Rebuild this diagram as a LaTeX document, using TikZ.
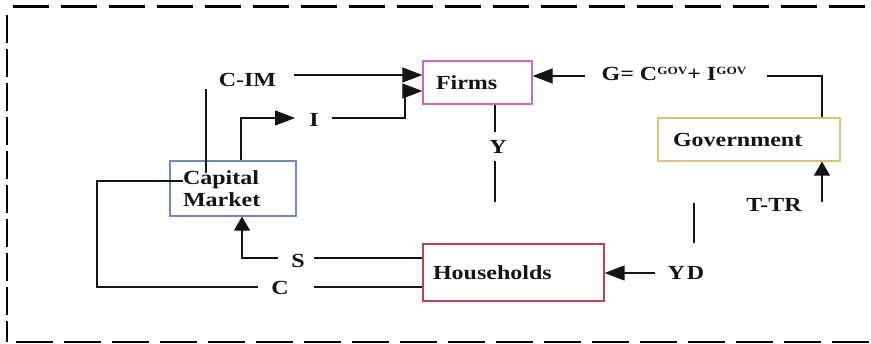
\documentclass[tikz,border=0pt]{standalone}
\usepackage{fontspec}
\setmainfont{Liberation Serif}[FakeStretch=1.2]
\usetikzlibrary{arrows.meta}

\definecolor{firmcol}{HTML}{CC66CC}
\definecolor{capcol}{HTML}{6A8AC0}
\definecolor{govcol}{HTML}{DEC070}
\definecolor{hhcol}{HTML}{C04050}
\definecolor{ink}{HTML}{141414}

\begin{document}
\begin{tikzpicture}[x=1pt,y=-1pt,
  box/.style={draw, line width=1.2pt, inner ysep=0pt, align=left,
    font=\fontsize{20}{22}\selectfont\bfseries, text=ink},
  lab/.style={font=\fontsize{20}{22}\selectfont\bfseries, text=ink, inner sep=0pt, anchor=base},
  flow/.style={line width=1.1pt, draw=ink},
  tipL/.style={-{Triangle[length=20pt,width=15pt]}},
  tipS/.style={-{Triangle[length=14pt,width=16pt]}},
  frame/.style={line width=2.8pt, draw=black}]
\useasboundingbox (0,0) rectangle (871,344);

% dashed frame
\draw[frame, dash pattern=on 36pt off 12pt] (13,6.5) -- (871,6.5);
\draw[frame, dash pattern=on 37pt off 11pt] (16,342) -- (871,342);
\draw[frame, dash pattern=on 28pt off 6pt] (7,15) -- (7,342);

% sectors
\node[box, draw=firmcol, inner xsep=13pt, text width=83pt, minimum height=43pt]
  (firms) at (477.5,82.5) {Firms};
\node[box, draw=capcol, inner xsep=13pt, text width=100pt, minimum height=55pt]
  (cap) at (233,188.5) {Capital\\Market};
\node[box, draw=govcol, inner xsep=15pt, text width=152pt, minimum height=43pt]
  (gov) at (749,139.5) {Government};
\node[box, draw=hhcol, inner xsep=10pt, text width=161pt, minimum height=57pt]
  (hh) at (513.5,272.5) {Households};

% flow labels
\node[lab] (cim) at (247.5,87) {C-IM};
\node[lab] (ilab) at (314,127) {I};
\node[lab] (glab) at (674,81) {G= C{\fontsize{11}{12}\selectfont\raisebox{6pt}{GOV}}+ I{\fontsize{11}{12}\selectfont\raisebox{6pt}{GOV}}};
\node[lab] (ylab) at (498,154) {Y};
\node[lab] (ttr) at (774,212) {T-TR};
\node[lab] (yd) at (686,280) {Y\kern2pt D};
\node[lab] (slab) at (298,268) {S};
\node[lab] (clab) at (280,295) {C};

% connector end points
\coordinate (cimR) at (294,75);
\coordinate (iBend) at (241,118);
\coordinate (iTip) at (295,118);
\coordinate (iR) at (332,118);
\coordinate (iUp) at (405,118);
\coordinate (iTop) at (405,91);
\coordinate (gL) at (585,76);
\coordinate (gR) at (767,76);
\coordinate (gCorner) at (822,76);
\coordinate (tBot) at (822,202);
\coordinate (yA) at (495,132);
\coordinate (yB) at (495,161);
\coordinate (yC) at (495,202);
\coordinate (ydA) at (694,203);
\coordinate (ydB) at (694,243);
\coordinate (ydL) at (655,273);
\coordinate (sR) at (314,258);
\coordinate (sL) at (278,258);
\coordinate (sBend) at (242,258);
\coordinate (cR) at (314,287);
\coordinate (cL) at (258,287);
\coordinate (cBend) at (97,287);
\coordinate (cUp) at (97,181);
\coordinate (cIn) at (183,181);
\coordinate (cimLow) at (206,173);
\coordinate (cimHigh) at (206,89);

% flows into firms
\draw[flow, tipL] (cimR) -- (cimR -| firms.west);
\draw[flow, tipL] (iR) -- (iUp) -- (iTop) -- (iTop -| firms.west);
\draw[flow, tipL] (gL) -- (gL -| firms.east);

% capital market
\draw[flow, tipL] (iBend |- cap.north) -- (iBend) -- (iTip);
\draw[flow] (cimLow) -- (cimHigh);

% government
\draw[flow] (gR) -- (gCorner) -- (gCorner |- gov.north);
\draw[flow, tipS] (tBot) -- (tBot |- gov.south);

% income
\draw[flow] (yA |- firms.south) -- (yA);
\draw[flow] (yB) -- (yC);
\draw[flow] (ydA) -- (ydB);
\draw[flow, tipL] (ydL) -- (ydL -| hh.east);

% households
\draw[flow] (sR -| hh.west) -- (sR);
\draw[flow, tipS] (sL) -- (sBend) -- (sBend |- cap.south);
\draw[flow] (cR -| hh.west) -- (cR);
\draw[flow] (cL) -- (cBend) -- (cUp) -- (cIn);
\end{tikzpicture}
\end{document}
